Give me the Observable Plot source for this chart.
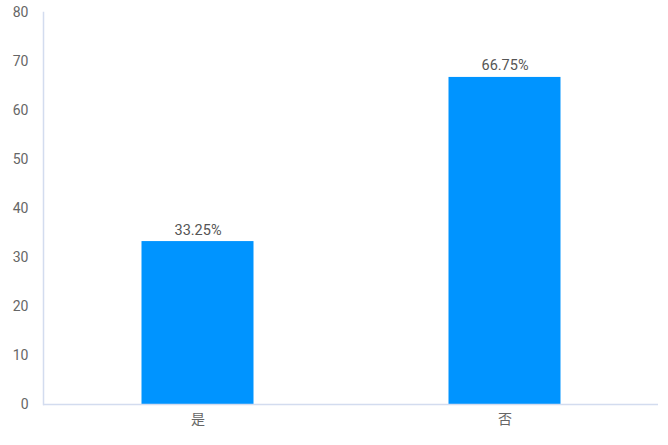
<!DOCTYPE html>
<html>
<head>
<meta charset="utf-8">
<script src="https://cdn.jsdelivr.net/npm/d3@7"></script>
<script src="https://cdn.jsdelivr.net/npm/@observablehq/plot@0.6"></script>
<style>
  html, body { margin: 0; padding: 0; background: #fff; }
  #chart svg { display: block; }
</style>
</head>
<body>
<div id="chart"></div>
<script>
const categories = ["是", "否"];
const values = [33.25, 66.75];
const labels = ["33.25%", "66.75%"];
const yTicks = [0, 10, 20, 30, 40, 50, 60, 70, 80];

const data = categories.map((c, i) => ({cat: c, value: values[i], label: labels[i]}));
const font = "Roboto, 'Noto Sans CJK SC', sans-serif";
const axisColor = "#d3dcef";

const chart = Plot.plot({
  width: 668,
  height: 445,
  marginLeft: 43,
  marginRight: 10,
  marginTop: 12,
  marginBottom: 41,
  style: {fontFamily: font, fontSize: "14px", color: "#666", background: "#fff"},
  x: {domain: categories, padding: 0, label: null},
  y: {domain: [0, 80], label: null},
  marks: [
    Plot.barY(data, {x: "cat", y: "value", fill: "#0094ff", insetLeft: 97.5, insetRight: 97.5}),
    Plot.frame({anchor: "left", stroke: axisColor, strokeWidth: 1.5}),
    Plot.ruleY([0], {stroke: axisColor, strokeWidth: 1.5}),
    Plot.axisY({ticks: yTicks, tickSize: 0, tickPadding: 15, fill: "#666", fontSize: 14, label: null}),
    Plot.axisX({tickSize: 0, tickPadding: 10, fill: "#666", fontSize: 14, label: null}),
    Plot.text(data, {x: "cat", y: "value", text: "label", dy: -7, lineAnchor: "bottom", fill: "#555", fontSize: 14.5})
  ]
});
document.getElementById("chart").appendChild(chart);
</script>
</body>
</html>
